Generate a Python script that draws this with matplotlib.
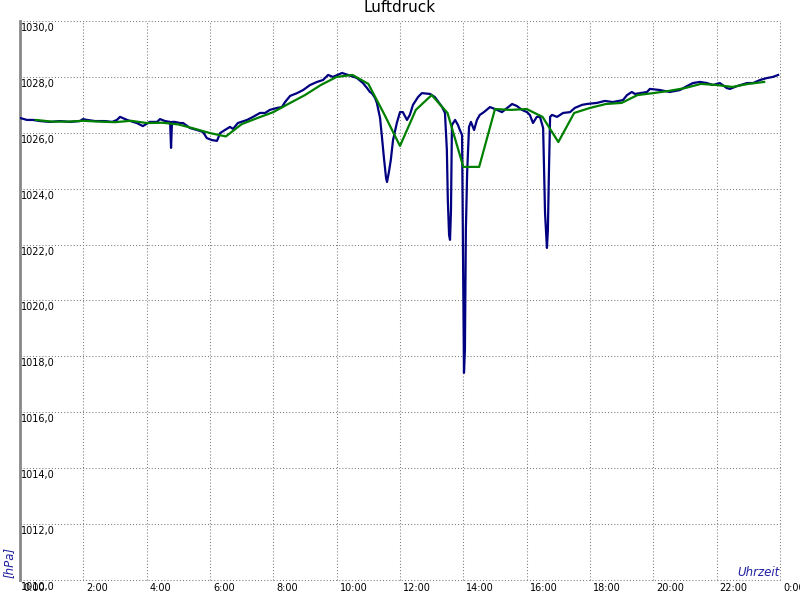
import matplotlib
matplotlib.use("Agg")
import matplotlib.pyplot as plt
from matplotlib.transforms import offset_copy, blended_transform_factory

# ---- data -------------------------------------------------------------
blue_hours = [0.00, 0.22, 0.41, 0.63, 0.95, 1.26, 1.58, 1.89, 1.99, 2.12, 2.37, 2.68, 2.91, 3.06,
              3.16, 3.38, 3.57, 3.69, 3.88, 4.10, 4.33, 4.42, 4.58, 4.74, 4.77, 4.80, 4.89, 5.05,
              5.15, 5.37, 5.59, 5.78, 5.90, 6.06, 6.22, 6.32, 6.47, 6.63, 6.73, 6.88, 7.17, 7.36,
              7.58, 7.74, 7.89, 8.12, 8.27, 8.37, 8.53, 8.75, 8.94, 9.16, 9.38, 9.57, 9.73, 9.88,
              10.17, 10.36, 10.64, 10.83, 10.96, 11.05, 11.11, 11.21, 11.27, 11.37, 11.43, 11.49,
              11.56, 11.59, 11.65, 11.71, 11.78, 11.90, 12.00, 12.09, 12.22, 12.31, 12.41, 12.57,
              12.69, 12.95, 13.10, 13.33, 13.42, 13.48, 13.51, 13.55, 13.58, 13.61, 13.64, 13.74,
              13.83, 13.89, 13.96, 13.99, 14.02, 14.05, 14.08, 14.12, 14.18, 14.24, 14.34, 14.43,
              14.52, 14.65, 14.84, 15.00, 15.22, 15.54, 15.69, 15.85, 16.01, 16.10, 16.20, 16.32,
              16.42, 16.52, 16.58, 16.64, 16.67, 16.70, 16.74, 16.80, 16.96, 17.15, 17.37, 17.52,
              17.75, 17.90, 18.22, 18.47, 18.72, 19.04, 19.17, 19.32, 19.42, 19.58, 19.80, 19.89,
              20.21, 20.52, 20.84, 21.06, 21.25, 21.47, 21.69, 21.88, 22.10, 22.32, 22.42, 22.64,
              22.96, 23.15, 23.37, 23.59, 23.78, 23.94]
blue_hpa = [1026.53, 1026.46, 1026.46, 1026.42, 1026.39, 1026.42, 1026.39, 1026.42, 1026.49, 1026.46,
            1026.42, 1026.42, 1026.39, 1026.46, 1026.57, 1026.46, 1026.39, 1026.35, 1026.24, 1026.39,
            1026.39, 1026.49, 1026.42, 1026.39, 1025.46, 1026.39, 1026.39, 1026.35, 1026.35, 1026.17,
            1026.10, 1026.03, 1025.81, 1025.74, 1025.71, 1025.99, 1026.10, 1026.21, 1026.14, 1026.35,
            1026.46, 1026.57, 1026.71, 1026.71, 1026.82, 1026.89, 1026.92, 1027.10, 1027.32, 1027.42,
            1027.53, 1027.71, 1027.82, 1027.89, 1028.07, 1028.00, 1028.14, 1028.07, 1027.96, 1027.78,
            1027.60, 1027.46, 1027.42, 1027.25, 1027.07, 1026.53, 1025.85, 1025.13, 1024.38, 1024.24,
            1024.60, 1025.03, 1025.74, 1026.35, 1026.74, 1026.74, 1026.46, 1026.64, 1027.00, 1027.28,
            1027.42, 1027.39, 1027.28, 1026.92, 1026.71, 1025.38, 1023.60, 1022.34, 1022.17, 1023.24,
            1026.28, 1026.46, 1026.28, 1026.10, 1025.92, 1021.81, 1017.41, 1018.23, 1022.52, 1024.56,
            1026.21, 1026.39, 1026.10, 1026.46, 1026.64, 1026.74, 1026.92, 1026.85, 1026.74, 1027.03,
            1026.96, 1026.82, 1026.74, 1026.64, 1026.35, 1026.57, 1026.57, 1026.17, 1023.13, 1021.88,
            1022.52, 1024.42, 1026.57, 1026.64, 1026.57, 1026.71, 1026.74, 1026.89, 1027.00, 1027.03,
            1027.07, 1027.14, 1027.10, 1027.17, 1027.35, 1027.46, 1027.39, 1027.42, 1027.46, 1027.57,
            1027.53, 1027.46, 1027.53, 1027.67, 1027.78, 1027.82, 1027.78, 1027.71, 1027.78, 1027.60,
            1027.57, 1027.67, 1027.78, 1027.78, 1027.89, 1027.96, 1028.00, 1028.07]

green_hours = [0.5, 1.0, 1.5, 2.0, 2.5, 3.0, 3.5, 4.0, 4.5, 5.0, 5.5, 6.0, 6.5, 7.0, 7.5, 8.0,
               8.5, 9.0, 9.5, 10.0, 10.5, 11.0, 11.5, 12.0, 12.5, 13.0, 13.5, 14.0, 14.5, 15.0,
               15.5, 16.0, 16.5, 17.0, 17.5, 18.0, 18.5, 19.0, 19.5, 20.0, 20.5, 21.0, 21.5,
               22.0, 22.5, 23.0, 23.5]
green_hpa = [1026.46, 1026.40, 1026.40, 1026.43, 1026.40, 1026.38, 1026.43, 1026.35, 1026.36,
             1026.30, 1026.15, 1025.99, 1025.87, 1026.31, 1026.53, 1026.74, 1027.05, 1027.35,
             1027.71, 1028.00, 1028.07, 1027.75, 1026.67, 1025.53, 1026.82, 1027.35, 1026.71,
             1024.78, 1024.78, 1026.85, 1026.82, 1026.85, 1026.57, 1025.67, 1026.71, 1026.89,
             1027.03, 1027.07, 1027.35, 1027.42, 1027.50, 1027.60, 1027.75, 1027.71, 1027.64,
             1027.75, 1027.82]

x_ticks = list(range(0, 25, 2))
x_labels = ["0:00", "2:00", "4:00", "6:00", "8:00", "10:00", "12:00", "14:00", "16:00",
            "18:00", "20:00", "22:00", "0:00"]
y_ticks = list(range(1010, 1031, 2))
y_labels = ["%d,0" % v for v in y_ticks]

title = "Luftdruck"
y_title = "[hPa]"
x_title = "Uhrzeit"

# ---- figure -----------------------------------------------------------
fig = plt.figure(figsize=(8, 6), dpi=100)
fig.patch.set_facecolor("white")
ax = fig.add_axes([20 / 800, 20 / 600, 760 / 800, 559 / 600])
ax.set_xlim(0, 24)
ax.set_ylim(1010, 1030)

ax.set_xticks(x_ticks)
ax.set_yticks(y_ticks)
ax.tick_params(length=0, labelbottom=False, labelleft=False)
ax.grid(True, linestyle=(0, (1, 2)), color="#7a7a7a", linewidth=0.75)
for gl in ax.get_xgridlines() + ax.get_ygridlines():
    gl.set_clip_on(False)

for side in ("top", "right", "bottom"):
    ax.spines[side].set_visible(False)
ax.spines["left"].set_color("#888888")
ax.spines["left"].set_linewidth(2)

ax.plot(blue_hours, blue_hpa, color="#000080", linewidth=1.6, zorder=3)
ax.plot(green_hours, green_hpa, color="#008000", linewidth=1.6, zorder=4)

# tick labels drawn inside like the reference
ytr = blended_transform_factory(ax.transAxes, ax.transData)
ytr = offset_copy(ytr, fig=fig, x=1, y=-2, units="dots")
for v, lab in zip(y_ticks, y_labels):
    ax.text(0, v, lab, transform=ytr, ha="left", va="top", fontsize=7,
            color="black", clip_on=False)

xtr = blended_transform_factory(ax.transData, ax.transAxes)
xtr = offset_copy(xtr, fig=fig, x=3, y=-3, units="dots")
for h, lab in zip(x_ticks, x_labels):
    ax.text(h, 0, lab, transform=xtr, ha="left", va="top", fontsize=7,
            color="black", clip_on=False)

fig.text(0.5, 1 - 8 / 600, title, ha="center", va="center", fontsize=11)
fig.text(9 / 800, 1 - 562 / 600, y_title, rotation=90, ha="center", va="center",
         fontsize=8.5, style="italic", color="#2020a0")
fig.text(780 / 800, 1 - 573 / 600, x_title, ha="right", va="center",
         fontsize=8.5, style="italic", color="#2020a0")

fig.savefig("out.png", dpi=100)
